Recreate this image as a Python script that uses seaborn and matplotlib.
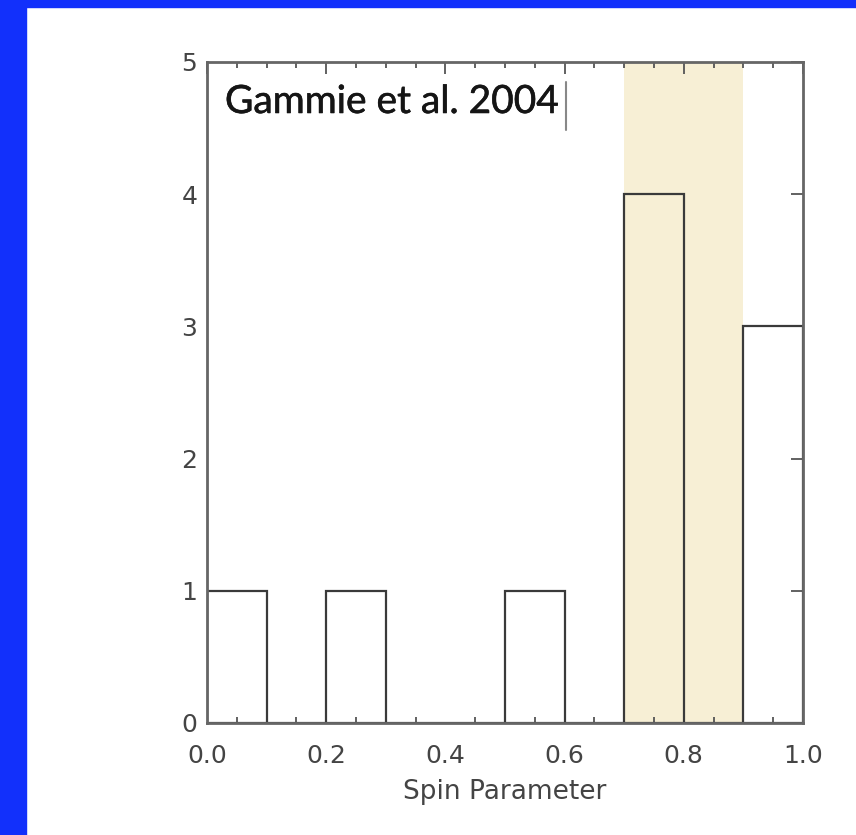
import numpy as np
import pandas as pd
import matplotlib
matplotlib.use("Agg")
import matplotlib.pyplot as plt
import seaborn as sns
import matplotlib.patheffects as pe
from matplotlib.patches import Rectangle
from matplotlib.ticker import MultipleLocator

# Data
bin_edges = [0.0, 0.1, 0.2, 0.3, 0.4, 0.5, 0.6, 0.7, 0.8, 0.9, 1.0]
bin_centers = [0.05, 0.15, 0.25, 0.35, 0.45, 0.55, 0.65, 0.75, 0.85, 0.95]
counts = [1, 0, 1, 0, 0, 1, 0, 4, 0, 3]
band = [0.7, 0.9]
x_ticks = [0.0, 0.2, 0.4, 0.6, 0.8, 1.0]
x_tick_labels = ["0.0", "0.2", "0.4", "0.6", "0.8", "1.0"]
y_ticks = [0, 1, 2, 3, 4, 5]
annotation = "Gammie et al. 2004"
x_label = "Spin Parameter"

sns.set_style("white")
plt.rcParams['font.family'] = ['DejaVu Sans']

fig = plt.figure(figsize=(8.56, 8.35), dpi=100)
# Blue frame strips
fig.patches.append(Rectangle((0, 0), 26/856, 1, transform=fig.transFigure,
                             color="#1230fb", zorder=0))
fig.patches.append(Rectangle((0, 1 - 7/835), 1, 7/835, transform=fig.transFigure,
                             color="#1230fb", zorder=0))

ax = fig.add_axes([207/856, (835-723)/835, (803-207)/856, (723-62)/835])
ax.axvspan(band[0], band[1], color="#f7efd5", zorder=0, lw=0)

df = pd.DataFrame({"x": bin_centers, "w": counts})
sns.histplot(data=df, x="x", weights="w", bins=bin_edges, fill=False,
             color="#3a3a3a", edgecolor="#3a3a3a", linewidth=1.6, ax=ax, zorder=2)

ax.set_xlim(0, 1)
ax.set_ylim(0, 5)
ax.set_xticks(x_ticks)
ax.set_xticklabels(x_tick_labels)
ax.set_yticks(y_ticks)
ax.xaxis.set_minor_locator(MultipleLocator(0.05))
ax.tick_params(axis="both", which="major", direction="in", length=8.5, width=1.3,
               color="#555555", top=True, right=True, labelsize=18,
               labelcolor="#444444")
ax.tick_params(axis="x", which="major", pad=15)
ax.tick_params(axis="x", which="minor", direction="in", length=4, width=1.3,
               color="#555555", top=True, bottom=True)
ax.tick_params(axis="y", which="major", pad=7)
ax.set_ylabel("")
ax.set_xlabel(x_label, fontsize=19, color="#444444", labelpad=8)
for s in ax.spines.values():
    s.set_color("#666666")
    s.set_linewidth(2)
    s.set_visible(True)

ax.text(225, 835-113, annotation, transform=None, fontsize=28, color="#151515",
        family=["Lato", "DejaVu Sans"], va="baseline", ha="left",
        path_effects=[pe.withStroke(linewidth=0.4, foreground="#151515")])
ax.plot([(566-207)/(803-207)]*2,
        [(723-130)/(723-62), (723-82)/(723-62)], transform=ax.transAxes,
        color="#888888", lw=1.5, zorder=3)

fig.savefig("out.png", dpi=100)
